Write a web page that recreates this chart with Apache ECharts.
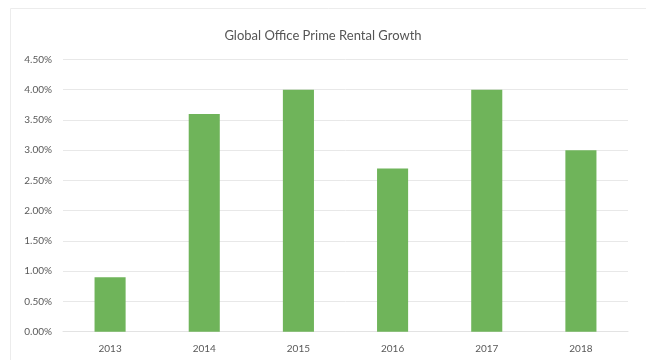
<!DOCTYPE html>
<html>
<head>
<meta charset="utf-8">
<style>
  html, body { margin: 0; padding: 0; background: #ffffff; }
  #chart { width: 646px; height: 360px; }
</style>
<script src="https://cdn.jsdelivr.net/npm/echarts@6/dist/echarts.min.js"></script>
</head>
<body>
<div id="chart"></div>
<script>
// Annual global office prime rental growth, in percent
const years = ['2013', '2014', '2015', '2016', '2017', '2018'];
const growthPct = [0.9, 3.6, 4.0, 2.7, 4.0, 3.0];
const chartTitle = 'Global Office Prime Rental Growth';

const chart = echarts.init(document.getElementById('chart'), null, { renderer: 'canvas' });

chart.setOption({
  backgroundColor: '#ffffff',
  animation: false,
  title: {
    text: chartTitle,
    left: 'center',
    top: 24,
    textStyle: {
      fontFamily: 'Lato, "Open Sans", sans-serif',
      fontSize: 13,
      fontWeight: 'normal',
      color: '#555555'
    }
  },
  graphic: [{
    type: 'rect',
    silent: true,
    shape: { x: 10.5, y: 8.5, width: 640, height: 360 },
    style: { fill: 'none', stroke: '#ececec', lineWidth: 1 }
  }],
  grid: { left: 63, right: 18, top: 59.5, bottom: 28.3, containLabel: false },
  xAxis: {
    type: 'category',
    data: years,
    axisLine: { show: true, lineStyle: { color: '#e3e3e3', width: 1 } },
    axisTick: { show: false },
    axisLabel: {
      margin: 12,
      fontFamily: 'Lato, "Open Sans", sans-serif',
      fontSize: 10,
      color: '#595959'
    }
  },
  yAxis: {
    type: 'value',
    min: 0,
    max: 4.5,
    interval: 0.5,
    axisLine: { show: false },
    axisTick: { show: false },
    splitLine: { lineStyle: { color: '#e8e8e8', width: 1 } },
    axisLabel: {
      margin: 11,
      fontFamily: 'Lato, "Open Sans", sans-serif',
      fontSize: 10,
      color: '#595959',
      formatter: v => v.toFixed(2) + '%'
    }
  },
  series: [{
    type: 'bar',
    data: growthPct,
    barWidth: '33%',
    itemStyle: { color: '#6fb45a' }
  }]
});
</script>
</body>
</html>
